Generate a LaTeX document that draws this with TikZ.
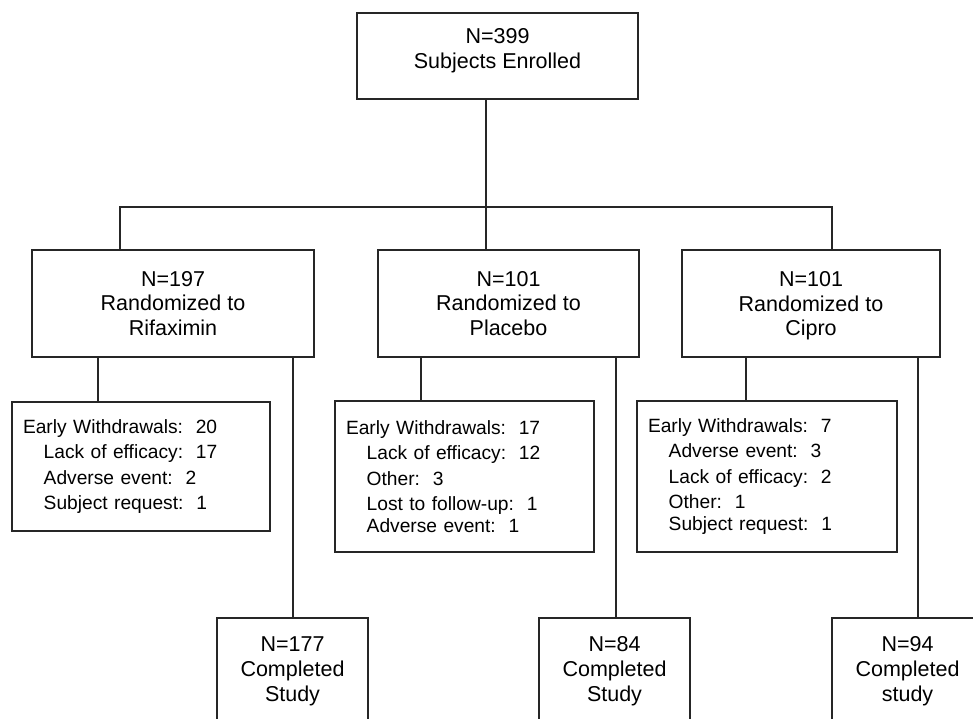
\documentclass[tikz,border=0pt]{standalone}
\usepackage{fontspec}
\setmainfont{Liberation Sans}
\newcommand\mainfnt{\fontsize{21.5}{24.8}\selectfont}
\newcommand\wdfnt{\fontsize{19.2}{25.5}\selectfont\frenchspacing}
\newcommand\subind{\hspace*{20.7pt}}
\begin{document}
\begin{tikzpicture}[x=1pt,y=-1pt,
  box/.style={draw=black!85, line width=1.3pt, rectangle, inner sep=0pt, align=center, font=\mainfnt},
  wdbox/.style={draw=black!85, line width=1.3pt, rectangle, inner xsep=11pt, inner ysep=0pt, align=left, font=\wdfnt},
  txt/.style={inner sep=0pt, align=center, font=\mainfnt},
  conn/.style={draw=black!85, line width=1.3pt}]
\useasboundingbox (0,0) rectangle (973,718);
\clip (0,0) rectangle (973,718);
\fill[white] (0,0) rectangle (973,718);

% top
\node[box, minimum width=281pt, minimum height=86pt] (enrol) at (497.5,56) {};
\node[txt] (enroltxt) at (497.5,50.5) {N=399\\Subjects Enrolled};

% randomized
\node[box, minimum width=282pt, minimum height=107pt] (rif) at (173,303.5) {N=197\\Randomized to\\Rifaximin};
\node[box, minimum width=261pt, minimum height=107pt] (pla) at (508.5,303.5) {N=101\\Randomized to\\Placebo};
\node[box, minimum width=258pt, minimum height=107pt, text depth=0pt] (cip) at (811,303.5) {N=101\\Randomized to\\Cipro};

% withdrawals
\node[wdbox, minimum width=258pt, text width=236pt, minimum height=129pt] (wd1) at (141,466.5)
  {Early Withdrawals:~~20\\\subind Lack of efficacy:~~17\\\subind Adverse event:~~2\\\subind Subject request:~~1};
\node[wdbox, minimum width=259pt, text width=237pt, minimum height=151pt] (wd2) at (464.5,476.5)
  {Early Withdrawals:~~17\\\subind Lack of efficacy:~~12\\\subind Other:~~3\\\subind Lost to follow-up:~~1\\[-3.5pt]\subind Adverse event:~~1};
\node[wdbox, minimum width=260pt, text width=238pt, minimum height=151pt] (wd3) at (767,476.5)
  {Early Withdrawals:~~7\\\subind Adverse event:~~3\\\subind Lack of efficacy:~~2\\\subind Other:~~1\\[-3.5pt]\subind Subject request:~~1};

% completed
\node[box, minimum width=151pt, minimum height=107pt] (comp1) at (292.5,671.5) {N=177\\Completed\\Study};
\node[box, minimum width=151pt, minimum height=107pt] (comp2) at (614.5,671.5) {N=84\\Completed\\Study};
\node[box, minimum width=151pt, minimum height=107pt] (comp3) at (907.5,671.5) {N=94\\Completed\\study};

% connectors
\coordinate (jc) at (486,207);
\coordinate (jl) at (120,207);
\coordinate (jr) at (832,207);
\draw[conn] (enrol.south -| jc) -- (jc);
\draw[conn] (rif.north -| jl) -- (jl) -- (jr) -- (cip.north -| jr);
\draw[conn] (jc) -- (pla.north -| jc);

\coordinate (xr1) at (98,0);
\coordinate (xr2) at (293,0);
\coordinate (xp1) at (421,0);
\coordinate (xp2) at (616,0);
\coordinate (xc1) at (746,0);
\coordinate (xc2) at (918,0);
\draw[conn] (rif.south -| xr1) -- (wd1.north -| xr1);
\draw[conn] (rif.south -| xr2) -- (comp1.north -| xr2);
\draw[conn] (pla.south -| xp1) -- (wd2.north -| xp1);
\draw[conn] (pla.south -| xp2) -- (comp2.north -| xp2);
\draw[conn] (cip.south -| xc1) -- (wd3.north -| xc1);
\draw[conn] (cip.south -| xc2) -- (comp3.north -| xc2);
\end{tikzpicture}
\end{document}
